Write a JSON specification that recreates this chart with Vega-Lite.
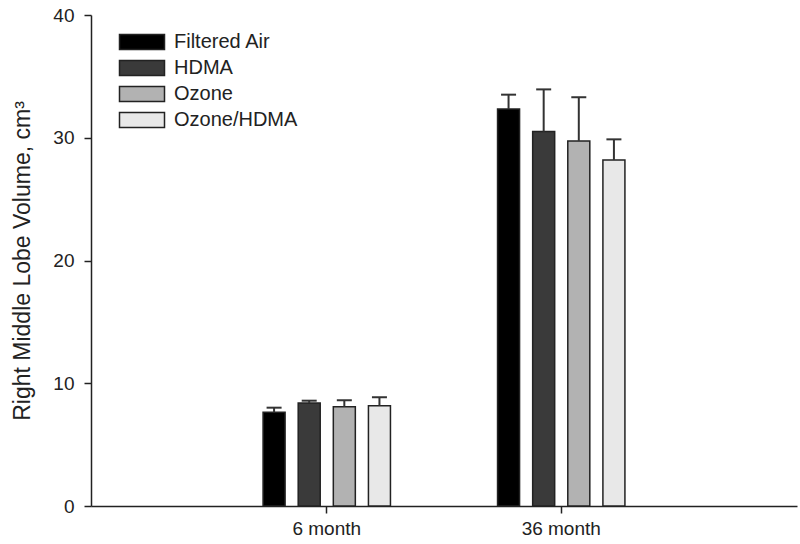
{
  "$schema": "https://vega.github.io/schema/vega-lite/v6.json",
  "width": 706,
  "height": 491,
  "autosize": {"type": "none"},
  "padding": {"left": 91, "top": 15, "right": 3, "bottom": 38},
  "background": "white",
  "config": {
    "view": {"stroke": null},
    "font": "Liberation Sans",
    "axis": {
      "grid": false,
      "domainColor": "#222",
      "domainWidth": 1.5,
      "tickColor": "#222",
      "tickWidth": 1.5,
      "tickSize": 7,
      "labelFont": "Liberation Sans",
      "labelFontSize": 19,
      "labelColor": "#222",
      "titleFont": "Liberation Sans",
      "titleFontWeight": "normal",
      "titleColor": "#222"
    }
  },
  "data": {
    "values": [
      {"group": "6 month", "treatment": "Filtered Air", "value": 7.63, "upper": 8.01},
      {"group": "6 month", "treatment": "HDMA", "value": 8.39, "upper": 8.58},
      {"group": "6 month", "treatment": "Ozone", "value": 8.09, "upper": 8.61},
      {"group": "6 month", "treatment": "Ozone/HDMA", "value": 8.17, "upper": 8.86},
      {"group": "36 month", "treatment": "Filtered Air", "value": 32.34, "upper": 33.51},
      {"group": "36 month", "treatment": "HDMA", "value": 30.5, "upper": 33.94},
      {"group": "36 month", "treatment": "Ozone", "value": 29.74, "upper": 33.3},
      {"group": "36 month", "treatment": "Ozone/HDMA", "value": 28.19, "upper": 29.87}
    ]
  },
  "encoding": {
    "x": {
      "field": "group",
      "type": "nominal",
      "sort": ["6 month", "36 month"],
      "scale": {"paddingInner": 0.401, "paddingOuter": 0.706},
      "axis": {"title": null, "labelAngle": 0, "labelPadding": 6}
    },
    "xOffset": {
      "field": "treatment",
      "type": "nominal",
      "sort": ["Filtered Air", "HDMA", "Ozone", "Ozone/HDMA"],
      "scale": {"paddingInner": 0.373, "paddingOuter": 0.186}
    }
  },
  "layer": [
    {
      "mark": {"type": "bar", "stroke": "#222", "strokeWidth": 1.5},
      "encoding": {
        "y": {
          "field": "value",
          "type": "quantitative",
          "scale": {"domain": [0, 40], "nice": false},
          "axis": {
            "values": [0, 10, 20, 30, 40],
            "title": "Right Middle Lobe Volume, cm³",
            "titleFontSize": 23,
            "titlePadding": 18,
            "labelPadding": 10
          }
        },
        "fill": {
          "field": "treatment",
          "type": "nominal",
          "sort": ["Filtered Air", "HDMA", "Ozone", "Ozone/HDMA"],
          "scale": {
            "domain": ["Filtered Air", "HDMA", "Ozone", "Ozone/HDMA"],
            "range": ["#000000", "#3a3a3a", "#b2b2b2", "#e8e8e8"]
          },
          "legend": {
            "title": null,
            "orient": "none",
            "legendX": 41,
            "legendY": 17,
            "padding": 0,
            "symbolType": "M-3,-1H3V1H-3Z",
            "symbolSize": 225,
            "symbolStrokeColor": "#222",
            "symbolStrokeWidth": 1.5,
            "symbolOpacity": 1,
            "labelFontSize": 20,
            "labelFont": "Liberation Sans",
            "labelColor": "#222",
            "labelOffset": 22,
            "rowPadding": 4
          }
        }
      }
    },
    {
      "mark": {"type": "rule", "stroke": "#333", "strokeWidth": 2},
      "encoding": {
        "y": {"field": "value", "type": "quantitative"},
        "y2": {"field": "upper"}
      }
    },
    {
      "mark": {"type": "tick", "color": "#333", "thickness": 2, "size": 15, "opacity": 1},
      "encoding": {
        "y": {"field": "upper", "type": "quantitative"}
      }
    }
  ]
}
